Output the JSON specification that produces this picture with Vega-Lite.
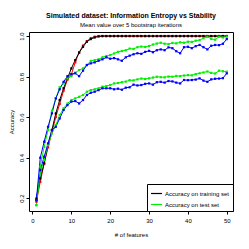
{
  "$schema": "https://vega.github.io/schema/vega-lite/v6.json",
  "width": 204,
  "height": 179,
  "autosize": "none",
  "padding": {"left": 29, "top": 32, "right": 16, "bottom": 38},
  "background": "white",
  "title": {
    "text": "Simulated dataset: Information Entropy vs Stability",
    "subtitle": "Mean value over 5 bootstrap iterations",
    "anchor": "middle",
    "font": "Liberation Sans",
    "fontSize": 7,
    "fontWeight": "bold",
    "subtitleFont": "Liberation Sans",
    "subtitleFontSize": 6,
    "subtitleColor": "black",
    "subtitlePadding": 3,
    "offset": 4,
    "color": "black"
  },
  "config": {
    "view": {"stroke": "black", "strokeWidth": 1},
    "axis": {
      "grid": false,
      "domain": false,
      "tickColor": "black",
      "tickSize": 3,
      "labelFont": "Liberation Sans",
      "labelFontSize": 6,
      "labelColor": "black",
      "titleFont": "Liberation Sans",
      "titleFontSize": 6,
      "titleFontWeight": "normal",
      "titleColor": "black"
    }
  },
  "data": {
    "values": [
      {"x":1,"tb":0.198,"tr":0.182,"gu":0.165,"bu":0.19,"gl":0.165,"bl":0.19},
      {"x":2,"tb":0.297,"tr":0.28,"gu":0.355,"bu":0.399,"gl":0.322,"bl":0.338},
      {"x":3,"tb":0.371,"tr":0.37,"gu":0.453,"bu":0.478,"gl":0.388,"bl":0.404},
      {"x":4,"tb":0.462,"tr":0.45,"gu":0.536,"bu":0.552,"gl":0.462,"bl":0.47},
      {"x":5,"tb":0.536,"tr":0.525,"gu":0.631,"bu":0.618,"gl":0.519,"bl":0.536},
      {"x":6,"tb":0.618,"tr":0.6,"gu":0.692,"bu":0.692,"gl":0.56,"bl":0.552},
      {"x":7,"tb":0.684,"tr":0.665,"gu":0.747,"bu":0.737,"gl":0.61,"bl":0.593},
      {"x":8,"tb":0.742,"tr":0.73,"gu":0.766,"bu":0.774,"gl":0.643,"bl":0.635},
      {"x":9,"tb":0.791,"tr":0.785,"gu":0.791,"bu":0.802,"gl":0.667,"bl":0.659},
      {"x":10,"tb":0.84,"tr":0.81,"gu":0.802,"bu":0.812,"gl":0.684,"bl":0.676},
      {"x":11,"tb":0.881,"tr":0.87,"gu":0.819,"bu":0.816,"gl":0.692,"bl":0.679},
      {"x":12,"tb":0.918,"tr":0.92,"gu":0.832,"bu":0.802,"gl":0.7,"bl":0.667},
      {"x":13,"tb":0.947,"tr":0.953,"gu":0.84,"bu":0.829,"gl":0.709,"bl":0.684},
      {"x":14,"tb":0.972,"tr":0.975,"gu":0.857,"bu":0.857,"gl":0.725,"bl":0.709},
      {"x":15,"tb":0.985,"tr":0.99,"gu":0.877,"bu":0.865,"gl":0.733,"bl":0.72},
      {"x":16,"tb":0.993,"tr":0.997,"gu":0.881,"bu":0.87,"gl":0.737,"bl":0.725},
      {"x":17,"tb":0.998,"tr":1.0,"gu":0.885,"bu":0.878,"gl":0.742,"bl":0.733},
      {"x":18,"tb":1.0,"tr":1.0,"gu":0.895,"bu":0.885,"gl":0.75,"bl":0.742},
      {"x":19,"tb":1.0,"tr":1.0,"gu":0.901,"bu":0.895,"gl":0.753,"bl":0.742},
      {"x":20,"tb":1.0,"tr":1.0,"gu":0.906,"bu":0.888,"gl":0.758,"bl":0.742},
      {"x":21,"tb":1.0,"tr":1.0,"gu":0.914,"bu":0.891,"gl":0.766,"bl":0.737},
      {"x":22,"tb":1.0,"tr":1.0,"gu":0.922,"bu":0.885,"gl":0.768,"bl":0.74},
      {"x":23,"tb":1.0,"tr":1.0,"gu":0.926,"bu":0.878,"gl":0.772,"bl":0.735},
      {"x":24,"tb":1.0,"tr":1.0,"gu":0.93,"bu":0.895,"gl":0.775,"bl":0.745},
      {"x":25,"tb":1.0,"tr":1.0,"gu":0.938,"bu":0.903,"gl":0.782,"bl":0.747},
      {"x":26,"tb":1.0,"tr":1.0,"gu":0.936,"bu":0.91,"gl":0.781,"bl":0.76},
      {"x":27,"tb":1.0,"tr":1.0,"gu":0.945,"bu":0.915,"gl":0.786,"bl":0.756},
      {"x":28,"tb":1.0,"tr":1.0,"gu":0.948,"bu":0.912,"gl":0.79,"bl":0.758},
      {"x":29,"tb":1.0,"tr":1.0,"gu":0.946,"bu":0.922,"gl":0.788,"bl":0.764},
      {"x":30,"tb":1.0,"tr":1.0,"gu":0.951,"bu":0.927,"gl":0.791,"bl":0.766},
      {"x":31,"tb":1.0,"tr":1.0,"gu":0.958,"bu":0.92,"gl":0.795,"bl":0.76},
      {"x":32,"tb":1.0,"tr":1.0,"gu":0.963,"bu":0.93,"gl":0.799,"bl":0.772},
      {"x":33,"tb":1.0,"tr":1.0,"gu":0.967,"bu":0.934,"gl":0.797,"bl":0.774},
      {"x":34,"tb":1.0,"tr":1.0,"gu":0.962,"bu":0.93,"gl":0.796,"bl":0.77},
      {"x":35,"tb":1.0,"tr":1.0,"gu":0.96,"bu":0.944,"gl":0.8,"bl":0.778},
      {"x":36,"tb":1.0,"tr":1.0,"gu":0.966,"bu":0.94,"gl":0.799,"bl":0.776},
      {"x":37,"tb":1.0,"tr":1.0,"gu":0.964,"bu":0.925,"gl":0.803,"bl":0.77},
      {"x":38,"tb":1.0,"tr":1.0,"gu":0.969,"bu":0.915,"gl":0.802,"bl":0.766},
      {"x":39,"tb":1.0,"tr":1.0,"gu":0.967,"bu":0.945,"gl":0.805,"bl":0.783},
      {"x":40,"tb":1.0,"tr":1.0,"gu":0.972,"bu":0.947,"gl":0.807,"bl":0.782},
      {"x":41,"tb":1.0,"tr":1.0,"gu":0.971,"bu":0.94,"gl":0.806,"bl":0.783},
      {"x":42,"tb":1.0,"tr":1.0,"gu":0.977,"bu":0.95,"gl":0.812,"bl":0.785},
      {"x":43,"tb":1.0,"tr":1.0,"gu":0.98,"bu":0.956,"gl":0.816,"bl":0.791},
      {"x":44,"tb":1.0,"tr":1.0,"gu":0.99,"bu":0.945,"gl":0.82,"bl":0.78},
      {"x":45,"tb":1.0,"tr":1.0,"gu":0.997,"bu":0.934,"gl":0.825,"bl":0.774},
      {"x":46,"tb":1.0,"tr":1.0,"gu":0.986,"bu":0.952,"gl":0.818,"bl":0.786},
      {"x":47,"tb":1.0,"tr":1.0,"gu":0.982,"bu":0.956,"gl":0.815,"bl":0.789},
      {"x":48,"tb":1.0,"tr":1.0,"gu":0.997,"bu":0.955,"gl":0.829,"bl":0.79},
      {"x":49,"tb":1.0,"tr":1.0,"gu":0.993,"bu":0.962,"gl":0.826,"bl":0.792},
      {"x":50,"tb":1.0,"tr":1.0,"gu":0.998,"bu":0.985,"gl":0.824,"bl":0.816}
    ]
  },
  "transform": [
    {"fold": ["tr", "tb", "gl", "bl", "gu", "bu"], "as": ["key", "value"]}
  ],
  "encoding": {
    "x": {
      "field": "x", "type": "quantitative",
      "scale": {"domain": [-0.9, 51.6], "nice": false, "zero": false},
      "axis": {"values": [0, 10, 20, 30, 40, 50], "title": "# of features", "titlePadding": 8, "labelPadding": 3}
    },
    "y": {
      "field": "value", "type": "quantitative",
      "scale": {"domain": [0.136, 1.02], "nice": false, "zero": false},
      "axis": {"values": [0.2, 0.4, 0.6, 0.8, 1.0], "format": ".1f", "title": "Accuracy",
               "labelAngle": -90, "labelAlign": "center", "labelBaseline": "bottom", "labelPadding": 2, "titlePadding": 4}
    },
    "color": {
      "field": "key", "type": "nominal",
      "scale": {"domain": ["tr", "tb", "gl", "bl", "gu", "bu"],
                "range": ["#ff0000", "#000000", "#00ee00", "#0000ff", "#00ee00", "#0000ff"]},
      "legend": {
        "values": ["tb", "gu"],
        "labelExpr": "datum.value == 'tb' ? 'Accuracy on training set' : 'Accuracy on test set'",
        "title": null,
        "orient": "bottom-right",
        "offset": 0,
        "padding": 3,
        "strokeColor": "black",
        "fillColor": "white",
        "labelFont": "Liberation Sans",
        "labelFontSize": 6,
        "labelColor": "black",
        "symbolType": "stroke",
        "symbolStrokeWidth": 1.2,
        "symbolSize": 120,
        "rowPadding": 1,
        "labelOffset": 2
      }
    }
  },
  "layer": [
    {"mark": {"type": "line", "strokeWidth": 1}},
    {"mark": {"type": "point", "shape": "square", "filled": true, "size": 5, "opacity": 1}}
  ]
}
